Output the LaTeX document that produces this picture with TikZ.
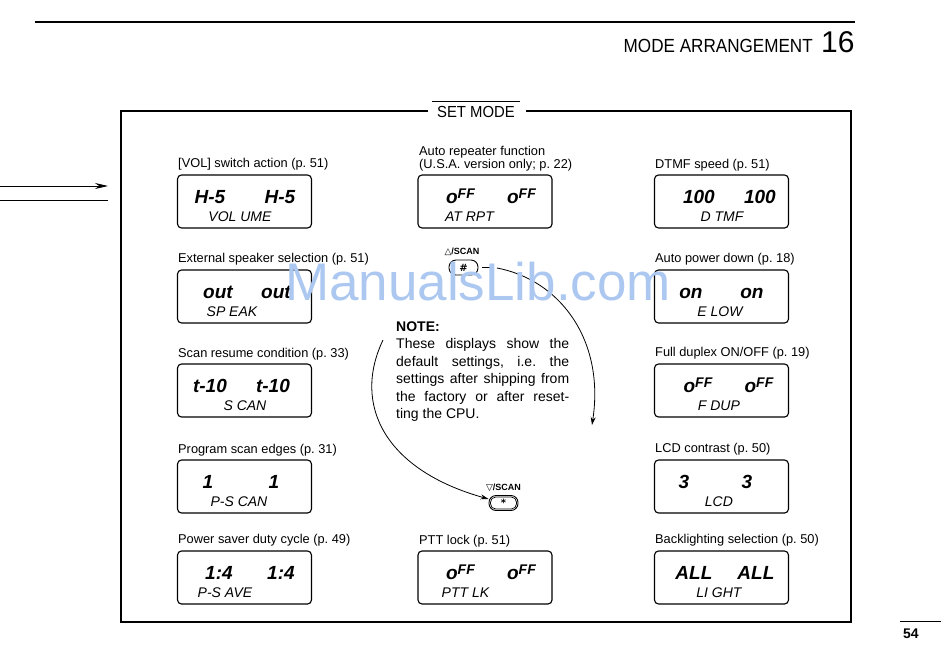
\documentclass[tikz,border=0pt]{standalone}
\usepackage{fontspec}
\setmainfont{Liberation Sans}
\newfontfamily\symfont{DejaVu Sans}
\usetikzlibrary{arrows.meta}
\frenchspacing
\definecolor{wmblue}{RGB}{172,200,240}
\tikzset{
  lcdbox/.style={draw, line width=1.1pt, rounded corners=4pt, minimum width=134pt, minimum height=53pt, inner sep=0},
  lbl/.style={anchor=base west, inner sep=0, font=\fontsize{12.8}{15}\selectfont},
  segtop/.style={inner sep=0, anchor=base, font=\fontsize{19}{19}\selectfont\bfseries\itshape},
  segbot/.style={inner sep=0, anchor=base, font=\fontsize{14}{14}\selectfont\itshape},
  keybtn/.style={draw, line width=0.9pt, rounded corners=7pt, minimum width=29pt, minimum height=15pt, inner sep=0, font=\symfont\fontsize{10}{10}\selectfont\bfseries},
  keylbl/.style={inner sep=0, anchor=base, font=\fontsize{9}{9}\selectfont\bfseries},
  flowarrow/.style={line width=0.8pt, -{Stealth[length=8pt,width=5pt]}},
}
% #1 name, #2 left x, #3 top y, #4 left text, #5 left offset, #6 right text, #7 right offset, #8 bottom text, #9 bottom offset
\newcommand\lcd[9]{%
  \node[lcdbox] (#1) at (#2+67,#3+26.5) {};
  \node[segtop] (#1l) at ([xshift=#5pt,yshift=-29pt]#1.north west) {#4};
  \node[segtop] (#1r) at ([xshift=#7pt,yshift=-29pt]#1.north west) {#6};
  \node[segbot] (#1b) at ([xshift=#9pt,yshift=-47pt]#1.north west) {#8};
}
\newcommand\off{o\raisebox{5pt}{\fontsize{14}{14}\selectfont FF}}
\begin{document}
\begin{tikzpicture}[x=1pt,y=-1pt]
\useasboundingbox (0,0) rectangle (950,664);

% header
\draw[line width=2.2pt] (35,22) -- (855,22);
\node[anchor=base east, inner sep=0, font=\fontsize{19}{19}\selectfont] (title) at (813,52) {\scalebox{0.9}[1]{MODE ARRANGEMENT}};
\node[anchor=base west, inner sep=0, font=\fontsize{30}{30}\selectfont] (chap) at (821,52) {16};

% page-edge arrows
\coordinate (ea1) at (0,186);
\coordinate (eb1) at (108,186);
\coordinate (ea2) at (0,200);
\coordinate (eb2) at (108,200);
\draw[line width=0.9pt, -{Stealth[length=13pt,width=6pt]}] (ea1) -- (eb1);
\draw[line width=0.9pt] (ea2) -- (eb2);

% frame
\draw[line width=1.1pt] (428,111) -- (121,111) -- (121,622) -- (851,622) -- (851,111) -- (526,111);
\node[anchor=base, inner sep=0, font=\fontsize{16}{16}\selectfont] (setmode) at (476,117) {\scalebox{0.93}[1]{SET MODE}};
\draw[line width=0.9pt] (432,101) -- (520,101);

% displays
\lcd{vol}{177.5}{175}{H-5}{33}{H-5}{103}{VOL UME}{63}
\lcd{atr}{418}{175}{\off}{43}{\off}{104}{AT RPT}{52}
\lcd{dtmf}{654.5}{175}{100}{45}{100}{106}{D TMF}{68}
\lcd{spk}{177.5}{270}{out}{41}{out}{99}{SP EAK}{55}
\lcd{apd}{654.5}{270}{on}{37}{on}{98}{E LOW}{66}
\lcd{scan}{177.5}{364}{t-10}{33}{t-10}{96}{S CAN}{68}
\lcd{fdup}{654.5}{364}{\off}{44}{\off}{105}{F DUP}{65}
\lcd{pscan}{177.5}{460}{1}{31}{1}{97}{P-S CAN}{62}
\lcd{lcdc}{654.5}{460}{3}{30}{3}{93}{LCD}{65}
\lcd{psave}{177.5}{551}{1:4}{42}{1:4}{104}{P-S AVE}{48}
\lcd{ptt}{418}{551}{\off}{43}{\off}{104}{PTT LK}{48}
\lcd{light}{654.5}{551}{ALL}{40}{ALL}{102}{LI GHT}{65}

% labels
\node[lbl] (volL) at (178,167.5) {[VOL] switch action (p. 51)};
\node[lbl] (atrL1) at (419,155) {Auto repeater function};
\node[lbl] (atrL2) at (419,168) {(U.S.A. version only; p. 22)};
\node[lbl] (dtmfL) at (655,168) {DTMF speed (p. 51)};
\node[lbl] (spkL) at (178,262.5) {External speaker selection (p. 51)};
\node[lbl] (apdL) at (655,262.5) {Auto power down (p. 18)};
\node[lbl] (scanL) at (178,357) {Scan resume condition (p. 33)};
\node[lbl] (fdupL) at (655,356.5) {Full duplex ON/OFF (p. 19)};
\node[lbl] (pscanL) at (178,453) {Program scan edges (p. 31)};
\node[lbl] (lcdL) at (655,452.5) {LCD contrast (p. 50)};
\node[lbl] (psaveL) at (178,543.5) {Power saver duty cycle (p. 49)};
\node[lbl] (pttL) at (419,544) {PTT lock (p. 51)};
\node[lbl] (lightL) at (655,543.5) {Backlighting selection (p. 50)};

% keys
\node[keylbl] (upL) at (462,254) {{\symfont △}/SCAN};
\node[keybtn] (hashbtn) at (463.5,267.5) {\#};
\node[keylbl] (dnL) at (503.5,490.5) {{\symfont ▽}/SCAN};
\node[keybtn] (starbtn) at (503.5,503) {*};
\draw[line width=0.7pt, rounded corners=5pt] ([xshift=2pt,yshift=2pt]starbtn.south west) rectangle ([xshift=-2pt,yshift=-2pt]starbtn.north east);

% circular arrows
\coordinate (dashA) at (482,267);
\coordinate (dashB) at (492,267);
\coordinate (arcA) at (497,268);
\coordinate (arcC) at (592,425);
\coordinate (arcB) at (383,340);
\draw[line width=0.8pt] (dashA) -- (dashB);
\draw[flowarrow] (arcA) .. controls (560,280) and (605,340) .. (arcC);
\draw[flowarrow] (arcB) .. controls (352,405) and (385,470) .. ([yshift=4pt]starbtn.west);

% note
\node[anchor=north west, inner sep=0, align=left, font=\fontsize{14}{17.5}\selectfont] (note) at (396,321.5) {%
\textbf{NOTE:}\\
\makebox[173pt][s]{These displays show the}\\
\makebox[173pt][s]{default settings, i.e. the}\\
\makebox[173pt][s]{settings after shipping from}\\
\makebox[173pt][s]{the factory or after reset-}\\
ting the CPU.};

% page number
\coordinate (pnA) at (900,621);
\coordinate (pnB) at (941,621);
\draw[line width=1pt] (pnA) -- (pnB);
\node[anchor=base west, inner sep=0, font=\fontsize{14}{14}\selectfont\bfseries] (pnum) at (903,638) {54};

% watermark
\node[anchor=base west, inner sep=0, text=wmblue, font=\fontsize{53}{53}\selectfont] (wm) at (285,300) {ManualsLib.com};
\end{tikzpicture}
\end{document}
